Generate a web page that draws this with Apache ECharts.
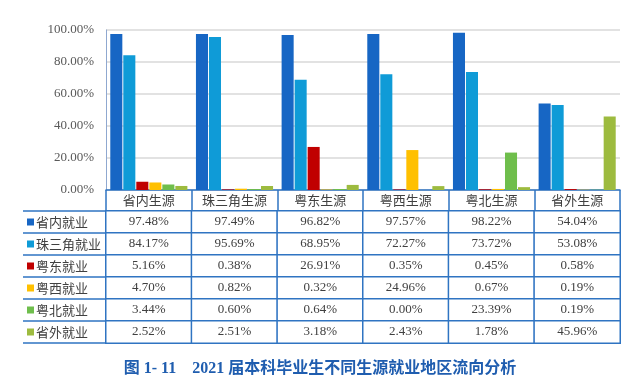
<!DOCTYPE html>
<html>
<head>
<meta charset="utf-8">
<script src="https://cdn.jsdelivr.net/npm/echarts@6/dist/echarts.min.js"></script>
<style>html,body{margin:0;padding:0;background:#fff}#c{width:640px;height:378px}</style>
</head>
<body>
<div id="c"></div>
<script>
const sources = ['省内生源','珠三角生源','粤东生源','粤西生源','粤北生源','省外生源'];
const seriesNames = ['省内就业','珠三角就业','粤东就业','粤西就业','粤北就业','省外就业'];
const shengnei = [97.48, 97.49, 96.82, 97.57, 98.22, 54.04];
const zhusanjiao = [84.17, 95.69, 68.95, 72.27, 73.72, 53.08];
const yuedong = [5.16, 0.38, 26.91, 0.35, 0.45, 0.58];
const yuexi = [4.70, 0.82, 0.32, 24.96, 0.67, 0.19];
const yuebei = [3.44, 0.60, 0.64, 0.00, 23.39, 0.19];
const shengwai = [2.52, 2.51, 3.18, 2.43, 1.78, 45.96];
const yTicks = [0, 20, 40, 60, 80, 100];
const titleText = '图 1- 11    2021 届本科毕业生不同生源就业地区流向分析';

const allValues = [shengnei, zhusanjiao, yuedong, yuexi, yuebei, shengwai];
const colors = ['#1766C4', '#0F9BD7', '#C00000', '#FFC000', '#6FBE4C', '#9DBB3F'];
const border = '#2F74C2';
const serif = '"Liberation Serif", "Noto Sans CJK SC", serif';
const cjk = '"Noto Sans CJK SC", sans-serif';

const cells = [];
allValues.forEach((arr, r) => arr.forEach((v, c) => cells.push([c, r, v])));

const rich = {};
seriesNames.forEach((n, i) => {
  rich['s' + i] = { width: 7, height: 7, backgroundColor: colors[i] };
});
rich.t = { fontFamily: cjk, fontSize: 13, color: '#404040', padding: [0, 0, 0, 2] };

const chart = echarts.init(document.getElementById('c'), null, { renderer: 'canvas' });
chart.setOption({
  animation: false,
  title: {
    text: titleText, left: 'center', top: 356,
    textStyle: { fontFamily: serif, fontSize: 16, fontWeight: 'bold', color: '#1F5DAF' }
  },
  grid: [
    { left: 106, right: 20, top: 30, height: 160 },
    { left: 106, right: 20, top: 211, height: 132 }
  ],
  xAxis: [
    {
      gridIndex: 0, type: 'category', data: sources,
      axisLine: { lineStyle: { color: border, width: 1.5 } },
      axisTick: { show: false }, axisLabel: { show: false }
    },
    {
      gridIndex: 1, type: 'category', data: sources, position: 'top',
      axisLine: { lineStyle: { color: border, width: 1.5 } },
      axisTick: { show: true, length: 21, interval: 0, lineStyle: { color: border, width: 1.5 } },
      axisLabel: { margin: 4, fontFamily: cjk, fontSize: 13, color: '#404040', interval: 0 }
    }
  ],
  yAxis: [
    {
      gridIndex: 0, type: 'value', min: 0, max: 100, interval: 20,
      axisLine: { show: true, lineStyle: { color: '#8FA8D0', width: 1 } },
      axisTick: { show: false },
      splitLine: { lineStyle: { color: '#D9D9D9', width: 1.5 } },
      axisLabel: {
        margin: 12, fontFamily: serif, fontSize: 13, color: '#595959',
        formatter: v => (yTicks.indexOf(v) >= 0 ? v.toFixed(2) + '%' : '')
      }
    },
    {
      gridIndex: 1, type: 'category', data: seriesNames, inverse: true,
      axisLine: { show: true, lineStyle: { color: border, width: 1.5 } },
      axisTick: { show: true, length: 83, interval: 0, lineStyle: { color: border, width: 1.5 } },
      axisLabel: {
        align: 'left', margin: 79, interval: 0,
        formatter: (v, i) => '{s' + i + '|}{t|' + v + '}',
        rich: rich
      }
    },
    {
      gridIndex: 1, type: 'category', data: seriesNames, inverse: true, offset: 83,
      axisLine: { show: true, lineStyle: { color: border, width: 1.5 } },
      axisTick: { show: false }, axisLabel: { show: false }, splitLine: { show: false }
    }
  ],
  series: seriesNames.map((n, i) => ({
    name: n, type: 'bar', xAxisIndex: 0, yAxisIndex: 0,
    data: allValues[i],
    barGap: '8%', barCategoryGap: '10%',
    itemStyle: { color: colors[i] }
  })).concat([{
    type: 'heatmap', xAxisIndex: 1, yAxisIndex: 1,
    data: cells,
    itemStyle: { color: '#ffffff', borderColor: border, borderWidth: 1.5 },
    label: {
      show: true, fontFamily: serif, fontSize: 13, color: '#404040',
      formatter: p => p.value[2].toFixed(2) + '%'
    },
    emphasis: { disabled: true }
  }])
});
</script>
</body>
</html>
